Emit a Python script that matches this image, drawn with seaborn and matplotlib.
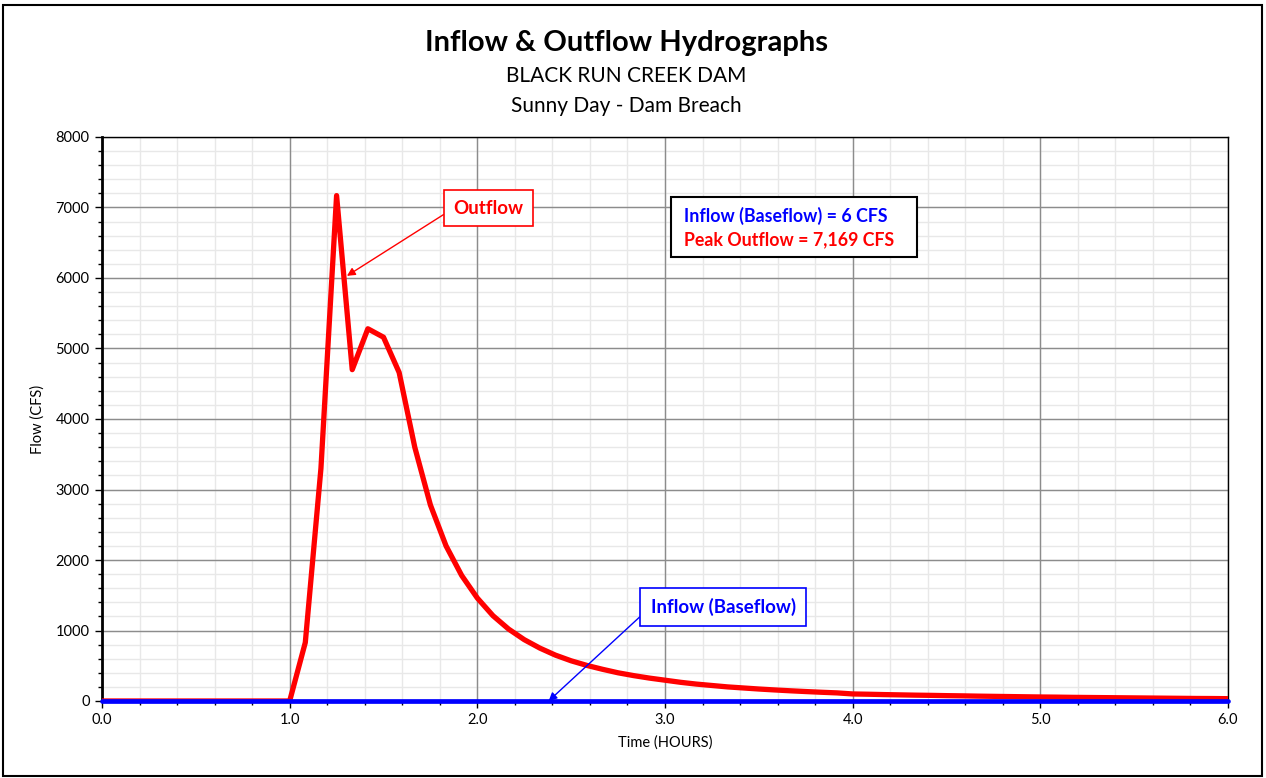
"""Inflow & Outflow hydrographs - Black Run Creek Dam, sunny day breach."""

import matplotlib
matplotlib.use("Agg")
import matplotlib.pyplot as plt
import matplotlib.ticker as mticker
from matplotlib.patches import Rectangle
import numpy as np
import pandas as pd
import seaborn as sns

# ── Data (5-minute steps) ──────────────────────────────────────────
TIME_MIN = [
    0, 60, 65, 70, 75, 80, 85, 90, 95, 100, 105, 110, 115, 120, 125, 130,
    135, 140, 145, 150, 155, 160, 165, 170, 175, 180, 185, 190, 195, 200,
    205, 210, 215, 220, 225, 230, 235, 240, 245, 250, 255, 260, 265, 270,
    275, 280, 285, 290, 295, 300, 305, 310, 315, 320, 325, 330, 335, 340,
    345, 350, 355, 360,
]
OUTFLOW = [
    0, 0, 830, 3300, 7169, 4700, 5280, 5160, 4660, 3600, 2780, 2200, 1780,
    1460, 1210, 1020, 870, 750, 650, 570, 505, 450, 400, 360, 325, 295, 265,
    240, 220, 200, 185, 170, 157, 145, 134, 124, 115, 100, 96, 91, 87, 83,
    80, 76, 73, 69, 66, 63, 60, 57, 55, 52, 50, 48, 46, 44, 42, 40, 38, 36,
    35, 33,
]
INFLOW_TIME = [0.0, 6.0]
INFLOW = [6, 6]

TITLE = "Inflow & Outflow Hydrographs"
SUBTITLE_1 = "BLACK RUN CREEK DAM"
SUBTITLE_2 = "Sunny Day - Dam Breach"

sns.set_theme(style="white")
plt.rcParams["font.family"] = ["Lato", "DejaVu Sans"]
plt.rcParams.update({
    "text.color": "black",
    "axes.labelcolor": "black",
    "xtick.color": "black",
    "ytick.color": "black",
})

out = pd.DataFrame({"Time": [t / 60 for t in TIME_MIN], "Flow": OUTFLOW})
inflow = pd.DataFrame({"Time": INFLOW_TIME, "Flow": INFLOW})

fig = plt.figure(figsize=(12.66, 7.78), dpi=100)
ax = fig.add_axes([102 / 1266, 1 - 701 / 778, (1228 - 102) / 1266, (701 - 137) / 778])

ax.set_xlim(0, 6)
ax.set_ylim(0, 8000)
ax.xaxis.set_major_locator(mticker.MultipleLocator(1.0))
ax.xaxis.set_minor_locator(mticker.MultipleLocator(0.2))
ax.yaxis.set_major_locator(mticker.MultipleLocator(1000))
ax.yaxis.set_minor_locator(mticker.MultipleLocator(200))
ax.xaxis.set_major_formatter(mticker.FormatStrFormatter("%.1f"))

# minor grid drawn by hand so the major grid sits on top of it
ax.vlines(np.arange(0.2, 6.0, 0.2), 0, 8000, color="#e8e8e8", lw=1.0, zorder=0.1)
ax.hlines(np.arange(200, 8000, 200), 0, 6, color="#e8e8e8", lw=1.0, zorder=0.1)
ax.grid(True, which="major", color="#8c8c8c", linewidth=1.0)
ax.set_axisbelow(True)

sns.lineplot(data=out, x="Time", y="Flow", ax=ax, color="#ff0000", linewidth=3.8, zorder=3)
sns.lineplot(data=inflow, x="Time", y="Flow", ax=ax, color="#0000ff", linewidth=3.4, zorder=4,
             clip_on=False)

for side in ["top", "right", "bottom"]:
    ax.spines[side].set_color("black")
    ax.spines[side].set_linewidth(1.0)
ax.spines["left"].set_color("black")
ax.spines["left"].set_linewidth(2.0)

ax.tick_params(axis="both", which="major", direction="out", length=5, width=1,
               color="black", labelsize=10.5, left=True, bottom=True, pad=4)
ax.tick_params(axis="both", which="minor", direction="out", length=3, width=1,
               color="black", left=True, bottom=True)
ax.set_xlabel("Time (HOURS)", fontsize=10.5, labelpad=6)
ax.set_ylabel("Flow (CFS)", fontsize=10.5, labelpad=8)

fig.text(0.495, 1 - 43 / 778, TITLE, ha="center", va="center", fontsize=21, fontweight="bold")
fig.text(0.495, 1 - 76 / 778, SUBTITLE_1, ha="center", va="center", fontsize=15)
fig.text(0.495, 1 - 106 / 778, SUBTITLE_2, ha="center", va="center", fontsize=15)

# callouts
ax.annotate("Outflow", xy=(1.305, 6030), xytext=(2.06, 6990),
            ha="center", va="center", fontsize=13.5, fontweight="bold", color="#ff0000",
            bbox=dict(boxstyle="square,pad=0.5", fc="white", ec="#ff0000", lw=1.2),
            arrowprops=dict(arrowstyle="-|>", color="#ff0000", lw=1.0,
                            mutation_scale=12, shrinkA=0, shrinkB=0,
                            relpos=(0.0, 0.5)),
            zorder=6)
ax.annotate("Inflow (Baseflow)", xy=(2.38, 0), xytext=(3.31, 1335),
            ha="center", va="center", fontsize=13.5, fontweight="bold", color="#0000ff",
            bbox=dict(boxstyle="square,pad=0.55", fc="white", ec="#0000ff", lw=1.2),
            arrowprops=dict(arrowstyle="-|>", color="#0000ff", lw=1.0,
                            mutation_scale=12, shrinkA=0, shrinkB=0,
                            relpos=(0.0, 0.5)),
            zorder=6)

# info box
ax.add_patch(Rectangle((3.03, 6300), 1.315, 850, fill=True, fc="white", ec="black", lw=1.5,
                       zorder=5))
ax.text(3.1, 6880, "Inflow (Baseflow) = 6 CFS", color="#0000ff", fontsize=12.8,
        fontweight="bold", va="center", ha="left", zorder=6)
ax.text(3.1, 6545, f"Peak Outflow = {max(OUTFLOW):,} CFS", color="#ff0000", fontsize=12.8,
        fontweight="bold", va="center", ha="left", zorder=6)

fig.patches.append(Rectangle((3 / 1266, 2 / 778), 1259 / 1266, 771 / 778,
                             transform=fig.transFigure, fill=False, ec="black", lw=1.5))

fig.savefig("out.png", dpi=100)
